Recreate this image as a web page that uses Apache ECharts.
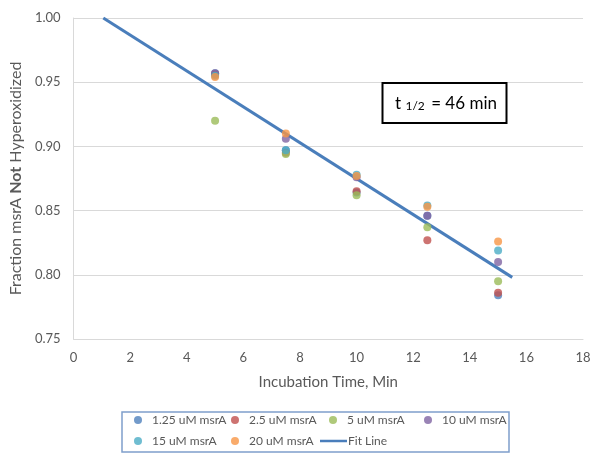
<!DOCTYPE html>
<html>
<head>
<meta charset="utf-8">
<script src="https://cdn.jsdelivr.net/npm/echarts@6/dist/echarts.min.js"></script>
<style>html,body{margin:0;padding:0;background:#fff}#c{width:602px;height:465px}</style>
</head>
<body>
<div id="c"></div>
<script>
var seriesNames = ['1.25 uM msrA', '2.5 uM msrA', '5 uM msrA', '10 uM msrA', '15 uM msrA', '20 uM msrA'];
var seriesColors = ['#4F81BD', '#C0504D', '#9BBB59', '#8064A2', '#4BACC6', '#F79646'];
var times = [5, 7.5, 10, 12.5, 15];
var v125 = [0.957, 0.897, 0.864, 0.846, 0.784];
var v25 = [0.956, 0.895, 0.865, 0.827, 0.786];
var v5 = [0.920, 0.894, 0.862, 0.837, 0.795];
var v10 = [0.957, 0.906, 0.876, 0.846, 0.810];
var v15 = [0.955, 0.897, 0.878, 0.854, 0.819];
var v20 = [0.954, 0.910, 0.877, 0.853, 0.826];
var fitX = [1.05, 15.5];
var fitY = [1.000, 0.798];
var xTicks = [0, 2, 4, 6, 8, 10, 12, 14, 16, 18];
var yTicks = ['0.75', '0.80', '0.85', '0.90', '0.95', '1.00'];

var allVals = [v125, v25, v5, v10, v15, v20];
var FONT = 'Lato';
var GRAY = '#595959';

var series = allVals.map(function (vals, i) {
  return {
    name: seriesNames[i],
    type: 'scatter',
    symbol: 'circle',
    symbolSize: 8,
    itemStyle: { color: seriesColors[i] },
    data: times.map(function (t, j) { return [t, vals[j]]; }),
    z: 3 + i
  };
});
series.push({
  name: 'Fit Line',
  type: 'line',
  showSymbol: false,
  symbol: 'none',
  lineStyle: { color: '#4A7EBB', width: 3 },
  itemStyle: { color: '#4A7EBB' },
  data: fitX.map(function (x, j) { return [x, fitY[j]]; }),
  z: 2
});

var legendPos = [
  [134, 414], [231, 414], [329, 414], [424, 414],
  [134, 435], [231, 435]
];
var legends = seriesNames.map(function (n, i) {
  return {
    data: [{ name: n, icon: 'circle' }],
    left: legendPos[i][0], top: legendPos[i][1],
    padding: 0, itemWidth: 8, itemHeight: 8,
    selectedMode: false,
    textStyle: { fontFamily: FONT, fontSize: 12, color: GRAY, padding: [0, 0, 0, 5] }
  };
});
legends.push({
  data: [{ name: 'Fit Line', icon: 'rect' }],
  left: 320, top: 435, padding: 0, itemWidth: 27, itemHeight: 2.5,
  selectedMode: false,
  textStyle: { fontFamily: FONT, fontSize: 12, color: GRAY, padding: [0, 0, 0, -4] }
});

var chart = echarts.init(document.getElementById('c'), null, { renderer: 'canvas' });
chart.setOption({
  animation: false,
  backgroundColor: '#fff',
  grid: { left: 73, right: 19, top: 18, bottom: 126, containLabel: false },
  xAxis: {
    type: 'value', min: 0, max: 18, interval: 2,
    name: 'Incubation Time, Min', nameLocation: 'middle', nameGap: 36,
    nameTextStyle: { fontFamily: FONT, fontSize: 15, color: GRAY },
    axisLine: { show: true, lineStyle: { color: '#D9D9D9', width: 1 } },
    axisTick: { show: false },
    splitLine: { show: false },
    axisLabel: { fontFamily: FONT, fontSize: 13, color: GRAY, margin: 12,
      formatter: function (v) { return xTicks.indexOf(v) >= 0 ? String(v) : ''; } }
  },
  yAxis: {
    type: 'value', min: 0.75, max: 1.0, interval: 0.05,
    name: '{n|Fraction msrA }{b|Not}{n| Hyperoxidized}', nameLocation: 'middle', nameGap: 42,
    nameTextStyle: { fontFamily: FONT, fontSize: 16, color: GRAY,
      rich: { n: { fontFamily: FONT, fontSize: 16, color: GRAY },
              b: { fontFamily: FONT, fontSize: 16, color: GRAY, fontWeight: 'bold' } } },
    axisLine: { show: true, lineStyle: { color: '#D9D9D9', width: 1 } },
    axisTick: { show: false },
    splitLine: { show: true, lineStyle: { color: '#D9D9D9', width: 1 } },
    axisLabel: { fontFamily: FONT, fontSize: 13, color: GRAY, margin: 13,
      formatter: function (v) { return yTicks[Math.round((v - 0.75) / 0.05)]; } }
  },
  legend: legends,
  graphic: [
    { type: 'rect', shape: { x: 122, y: 412, width: 387, height: 40 },
      style: { fill: 'none', stroke: '#7F9FCB', lineWidth: 1.5 }, z: 0 },
    { type: 'rect', shape: { x: 382.5, y: 83, width: 124, height: 40 },
      style: { fill: '#fff', stroke: '#000', lineWidth: 2 }, z: 10 },
    { type: 'text', left: 395, top: 95, z: 11,
      style: { text: '{a|t }{s|1/2}{a| = 46 min}',
        rich: { a: { fontFamily: FONT, fontSize: 17, fill: '#000', verticalAlign: 'bottom' },
                s: { fontFamily: FONT, fontSize: 12, fill: '#000', padding: [0, 2, 0, 0], verticalAlign: 'bottom' } } } }
  ],
  series: series
});
</script>
</body>
</html>
